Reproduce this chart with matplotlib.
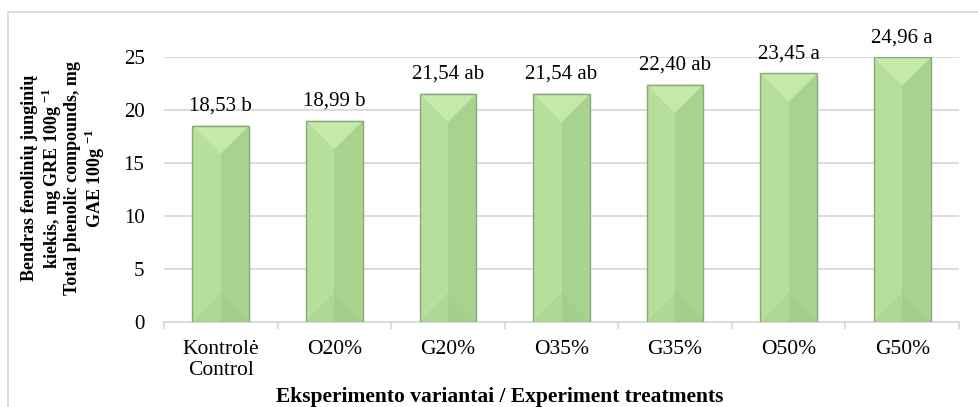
import matplotlib
matplotlib.use('Agg')
import matplotlib.pyplot as plt
from matplotlib.patches import Polygon
from matplotlib.lines import Line2D

plt.rcParams['font.family'] = 'Liberation Serif'
plt.rcParams['mathtext.fontset'] = 'custom'
plt.rcParams['mathtext.rm'] = 'Liberation Serif:bold'
plt.rcParams['mathtext.bf'] = 'Liberation Serif:bold'

# Total phenolic compounds per treatment
treatments = ['Kontrolė\nControl', 'O20%', 'G20%', 'O35%', 'G35%', 'O50%', 'G50%']
phenolics = [18.53, 18.99, 21.54, 21.54, 22.40, 23.45, 24.96]
letters = ['b', 'b', 'ab', 'ab', 'ab', 'a', 'a']

fig = plt.figure(figsize=(9.79, 4.07), dpi=100)
ax = fig.add_axes([0.1675, 0.2088, 0.8121, 0.6512])

x = list(range(len(phenolics)))
bars = ax.bar(x, phenolics, width=0.5, color='#b5df9b', edgecolor='none', zorder=2)
ax.set_xlim(-0.5, len(phenolics) - 0.5)
ax.set_ylim(0, 25)

# bevelled look: light top facet, darker right half, bottom facet
px_x = ax.get_position().width * fig.get_figwidth() * fig.dpi / 7.0
px_y = ax.get_position().height * fig.get_figheight() * fig.dpi / 25.0
for i, b in enumerate(bars):
    x0 = b.get_x()
    w = b.get_width()
    h = b.get_height()
    xc = x0 + w / 2
    x1 = x0 + w
    d = (w / 2) * px_x / px_y
    ax.add_patch(Polygon([(xc, 0), (x1, 0), (x1, h), (xc, h)], closed=True,
                         facecolor='#a8d38e', edgecolor='none', zorder=3))
    ax.add_patch(Polygon([(x0, 0), (x1, 0), (xc, d)], closed=True,
                         facecolor='#a4cf8a', edgecolor='none', zorder=3))
    ax.add_patch(Polygon([(x0, 0), (xc, 0), (xc, d)], closed=True,
                         facecolor='#add895', edgecolor='none', zorder=3))
    ax.add_patch(Polygon([(x0, h), (x1, h), (xc, h - d)], closed=True,
                         facecolor='#c5e9aa', edgecolor='none', zorder=3))
    ax.add_patch(Polygon([(x0, 0), (x0, h), (x1, h), (x1, 0)], closed=True,
                         facecolor='none', edgecolor='#8aa67b', linewidth=1.0, zorder=4))
    ax.annotate(f'{h:.2f}'.replace('.', ',') + ' ' + letters[i],
                (xc, h), xytext=(0, 7), textcoords='offset points',
                ha='center', va='bottom', fontsize=15)

ax.yaxis.grid(True, color='#d9d9d9', linewidth=1.3, zorder=0)
ax.set_axisbelow(True)
for s in ['left', 'right', 'top']:
    ax.spines[s].set_visible(False)
ax.spines['bottom'].set_color('#d9d9d9')
ax.spines['bottom'].set_linewidth(1.3)

ax.set_yticks([0, 5, 10, 15, 20, 25])
ax.tick_params(axis='y', length=0, labelsize=15, pad=14)
ax.set_xticks(x)
ax.set_xticklabels(treatments, fontsize=15.5, linespacing=1.15)
ax.tick_params(axis='x', length=0, pad=13)
# category separators on the axis
ax.set_xticks([i - 0.5 for i in range(len(phenolics) + 1)], minor=True)
ax.tick_params(axis='x', which='minor', length=5, color='#d9d9d9', width=1.3)

fig.text(500 / 979, 1 - 397 / 407, 'Eksperimento variantai / Experiment treatments',
         ha='center', va='center', fontsize=15.5, fontweight='bold')
fig.text(64 / 979, 1 - 178 / 407,
         'Bendras fenolinių junginių\nkiekis, mg GRE 100g $^{-1}$\n'
         'Total phenolic compounds, mg\nGAE 100g $^{-1}$',
         ha='center', va='center', rotation=90, fontsize=13,
         fontweight='bold', linespacing=1.07)

# chart frame
fig.add_artist(Line2D([8 / 979, 8 / 979], [0, 1 - 12 / 407],
                      color='#d9d9d9', linewidth=1.3, transform=fig.transFigure))
fig.add_artist(Line2D([8 / 979, 1], [1 - 12 / 407, 1 - 12 / 407],
                      color='#d9d9d9', linewidth=1.3, transform=fig.transFigure))

fig.savefig('out.png', dpi=100)
